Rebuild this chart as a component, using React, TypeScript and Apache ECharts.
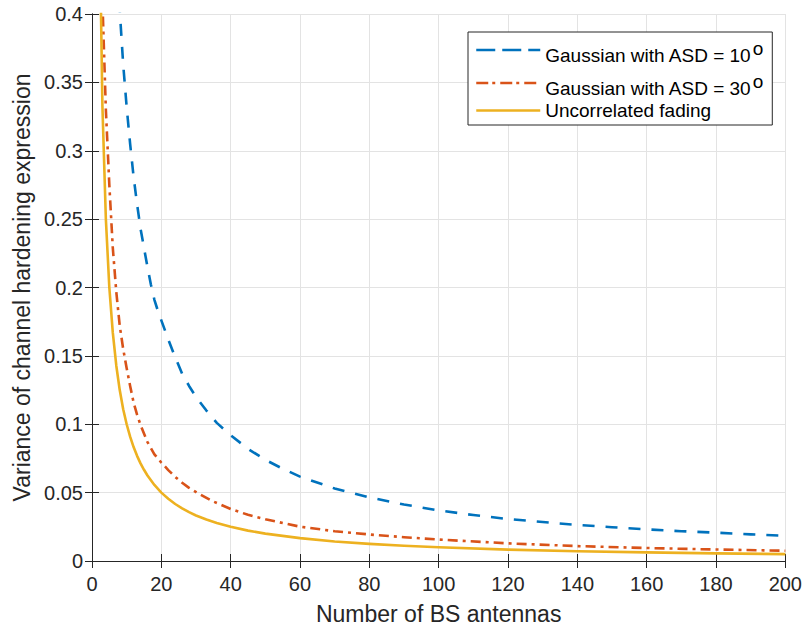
import React, { useEffect, useRef } from "react";
import * as echarts from "echarts";

// Number of BS antennas (M) and variance of the channel hardening expression
const asd10M = [7, 8, 9, 10, 11, 12, 13, 14, 15, 16, 17, 18, 19, 20, 22, 24, 26, 28, 30, 33, 36, 40, 45, 50, 55, 60, 70, 80, 90, 100, 110, 120, 130, 140, 150, 160, 170, 180, 190, 200];
const asd10Var = [0.46, 0.403, 0.363, 0.332, 0.305, 0.281, 0.261, 0.243, 0.229, 0.215, 0.202, 0.191, 0.183, 0.176, 0.162, 0.149, 0.137, 0.128, 0.12, 0.11, 0.101, 0.092, 0.082, 0.074, 0.0675, 0.0617, 0.053, 0.0465, 0.0413, 0.037, 0.0336, 0.0307, 0.0285, 0.0264, 0.0247, 0.0231, 0.0218, 0.0207, 0.0195, 0.0185];

const asd30M = [2, 3, 4, 5, 6, 7, 8, 9, 10, 11, 12, 13, 14, 16, 18, 20, 22, 24, 26, 28, 31, 35, 40, 45, 50, 60, 70, 80, 90, 100, 120, 140, 160, 180, 200];
const asd30Var = [0.6, 0.41, 0.33, 0.275, 0.229, 0.197, 0.172, 0.155, 0.141, 0.128, 0.116, 0.107, 0.0995, 0.087, 0.078, 0.072, 0.0665, 0.0615, 0.0572, 0.0535, 0.049, 0.0435, 0.038, 0.0338, 0.0305, 0.0251, 0.0218, 0.0194, 0.0174, 0.0157, 0.0129, 0.0109, 0.0095, 0.0084, 0.0075];

const uncorrM = [2, 3, 4, 5, 6, 7, 8, 9, 10, 11, 12, 13, 14, 15, 16, 18, 20, 22, 24, 26, 28, 30, 33, 36, 40, 45, 50, 60, 70, 80, 90, 100, 120, 140, 160, 180, 200];
const uncorrVar = [0.5, 0.333, 0.25, 0.2, 0.167, 0.143, 0.125, 0.111, 0.1, 0.0909, 0.0833, 0.0769, 0.0714, 0.0667, 0.0625, 0.0556, 0.05, 0.0455, 0.0417, 0.0385, 0.0357, 0.0333, 0.0303, 0.0278, 0.025, 0.0222, 0.02, 0.0167, 0.0143, 0.0125, 0.0111, 0.01, 0.0083, 0.0071, 0.0063, 0.0056, 0.005];

const seriesNames = ["Gaussian with ASD = 10", "Gaussian with ASD = 30", "Uncorrelated fading"];
const seriesColors = ["#0072BD", "#D95319", "#EDB120"];

const xTicks = { min: 0, max: 200, interval: 20 };
const yTicks = { min: 0, max: 0.4, interval: 0.05 };

const FONT = "'Liberation Sans', Arial, Helvetica, sans-serif";
const INK = "#262626";

const pairs = (xs: number[], ys: number[]) => xs.map((x, i) => [x, ys[i]]);

export default function App() {
  const ref = useRef<HTMLDivElement>(null);

  useEffect(() => {
    if (!ref.current) return;
    const chart = echarts.init(ref.current, null, { renderer: "svg" });

    const tick = { show: true, inside: true, length: 7, lineStyle: { color: INK, width: 1 } };
    const line = { show: true, lineStyle: { color: INK, width: 1 } };

    // Degree mark drawn as a raised "o" after the angle value
    const legendLabel = (name: string) =>
      name.startsWith("Gaussian") ? `{t|${name}}{s|o}` : `{u|${name}}`;

    const curve = (i: number, xs: number[], ys: number[], type: any) => ({
      name: seriesNames[i],
      type: "line",
      symbol: "none",
      showSymbol: false,
      clip: true,
      data: pairs(xs, ys),
      lineStyle: { color: seriesColors[i], width: 2.6, type, join: "round" },
      itemStyle: { color: seriesColors[i] },
    });

    chart.setOption({
      animation: false,
      backgroundColor: "#ffffff",
      grid: { left: 92, right: 18, top: 14, bottom: 67, containLabel: false },
      legend: {
        orient: "vertical",
        left: 468,
        top: 32,
        itemWidth: 64,
        itemHeight: 14,
        itemGap: 3,
        padding: [3, 9, 5, 7],
        backgroundColor: "#ffffff",
        borderColor: INK,
        borderWidth: 1,
        borderRadius: 0,
        selectedMode: false,
        itemStyle: { opacity: 0 },
        formatter: legendLabel,
        textStyle: {
          fontFamily: FONT,
          color: "#000000",
          rich: {
            t: { fontFamily: FONT, fontSize: 19, lineHeight: 30, color: "#000000", padding: [11, 0, 0, 0] },
            s: { fontFamily: FONT, fontSize: 19, lineHeight: 23, color: "#000000", padding: [4, 0, 0, 1], verticalAlign: "top" },
            u: { fontFamily: FONT, fontSize: 19, lineHeight: 19, color: "#000000" },
          },
        },
        data: [
          { name: seriesNames[0], itemStyle: { opacity: 0 }, lineStyle: { type: [19, 7], width: 2.5, color: seriesColors[0] } },
          { name: seriesNames[1], itemStyle: { opacity: 0 }, lineStyle: { type: [12, 4, 3, 5], width: 2.5, color: seriesColors[1] } },
          { name: seriesNames[2], itemStyle: { opacity: 0 }, lineStyle: { type: "solid", width: 2.5, color: seriesColors[2] } },
        ],
      },
      xAxis: [
        {
          type: "value",
          ...xTicks,
          position: "bottom",
          name: "Number of BS antennas",
          nameLocation: "middle",
          nameGap: 41,
          nameTextStyle: { fontFamily: FONT, fontSize: 23, color: INK },
          axisLine: line,
          axisTick: tick,
          axisLabel: { fontFamily: FONT, fontSize: 20, color: INK, margin: 13 },
          splitLine: { show: true, lineStyle: { color: "#e3e3e3", width: 1 } },
        },
        {
          type: "value",
          ...xTicks,
          position: "top",
          axisLine: line,
          axisTick: tick,
          axisLabel: { show: false },
          splitLine: { show: false },
        },
      ],
      yAxis: [
        {
          type: "value",
          ...yTicks,
          position: "left",
          name: "Variance of channel hardening expression",
          nameLocation: "middle",
          nameGap: 55,
          nameTextStyle: { fontFamily: FONT, fontSize: 23, color: INK },
          axisLine: line,
          axisTick: tick,
          axisLabel: {
            fontFamily: FONT,
            fontSize: 20,
            color: INK,
            margin: 9,
            formatter: (v: number) => String(parseFloat(v.toFixed(2))),
          },
          splitLine: { show: true, lineStyle: { color: "#e3e3e3", width: 1 } },
        },
        {
          type: "value",
          ...yTicks,
          position: "right",
          axisLine: line,
          axisTick: tick,
          axisLabel: { show: false },
          splitLine: { show: false },
        },
      ],
      series: [
        curve(0, asd10M, asd10Var, [12, 11]),
        curve(1, asd30M, asd30Var, [10, 5, 3, 5]),
        curve(2, uncorrM, uncorrVar, "solid"),
      ],
    });

    return () => chart.dispose();
  }, []);

  return (
    <div
      ref={ref}
      style={{ position: "absolute", left: 0, top: 0, width: 805, height: 630, background: "#ffffff" }}
    />
  );
}
